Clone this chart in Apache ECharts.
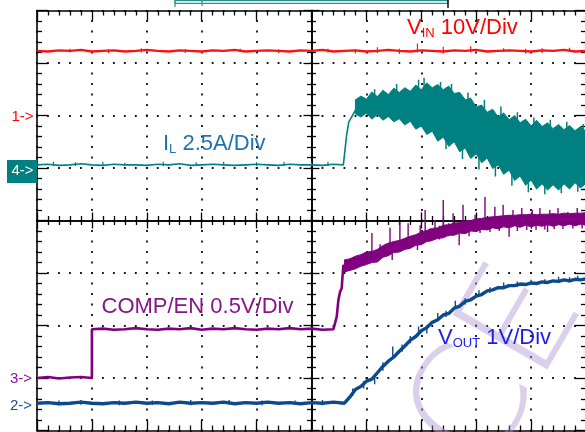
<!DOCTYPE html>
<html>
<head>
<meta charset="utf-8">
<script src="https://cdn.jsdelivr.net/npm/echarts@6/dist/echarts.min.js"></script>
<style>html,body{margin:0;padding:0;background:#fff}#c{width:585px;height:432px}</style>
</head>
<body>
<div id="c"></div>
<script>
// ---- time axes (divisions, -5 .. 5) ----
const tFull = [-5.0,-4.8,-4.6,-4.4,-4.2,-4.0,-3.8,-3.6,-3.4,-3.2,-3.0,-2.8,-2.6,-2.4,-2.2,-2.0,-1.8,-1.6,-1.4,-1.2,-1.0,-0.8,-0.6,-0.4,-0.2,0.0,0.2,0.4,0.6,0.8,1.0,1.2,1.4,1.6,1.8,2.0,2.2,2.4,2.6,2.8,3.0,3.2,3.4,3.6,3.8,4.0,4.2,4.4,4.6,4.8,5.0];
const tCoarse = [-5.0,-4.8,-4.6,-4.4,-4.2,-4.0,-3.8,-3.6,-3.4,-3.2,-3.0,-2.8,-2.6,-2.4,-2.2,-2.0,-1.8,-1.6,-1.4,-1.2,-1.0,-0.8,-0.6,-0.4,-0.2,0.0,0.2,0.4];
const tFine = [0.6,0.7,0.8,0.9,1.0,1.1,1.2,1.3,1.4,1.5,1.6,1.7,1.8,1.9,2.0,2.1,2.2,2.3,2.4,2.5,2.6,2.7,2.8,2.9,3.0,3.1,3.2,3.3,3.4,3.5,3.6,3.7,3.8,3.9,4.0,4.1,4.2,4.3,4.4,4.5,4.6,4.7,4.8,4.9,5.0];
const tBand = [0.8,0.9,1.0,1.1,1.2,1.3,1.4,1.5,1.6,1.7,1.8,1.9,2.0,2.1,2.2,2.3,2.4,2.5,2.6,2.7,2.8,2.9,3.0,3.1,3.2,3.3,3.4,3.5,3.6,3.7,3.8,3.9,4.0,4.1,4.2,4.3,4.4,4.5,4.6,4.7,4.8,4.9,5.0];

// ---- CH1 VIN (screen divisions) ----
const vinY = [3.23,3.22,3.24,3.23,3.25,3.22,3.23,3.24,3.22,3.23,3.25,3.23,3.22,3.24,3.23,3.22,3.24,3.23,3.25,3.22,3.23,3.24,3.23,3.22,3.24,3.23,3.25,3.22,3.23,3.24,3.22,3.23,3.25,3.23,3.22,3.24,3.23,3.22,3.24,3.23,3.25,3.22,3.23,3.24,3.23,3.22,3.24,3.23,3.25,3.22,3.23];
const vinSpikes = [[-4.4,3.20,3.27],[-3.7,3.19,3.26],[-3.1,3.20,3.28],[-2.3,3.19,3.26],[-1.3,3.21,3.27],[-0.6,3.19,3.26],[0.3,3.20,3.27],[0.8,3.18,3.26],[1.2,3.19,3.30],[1.6,3.17,3.27],[1.93,3.20,3.37],[2.4,3.18,3.31],[2.9,3.20,3.32],[3.5,3.21,3.28],[3.9,3.18,3.27],[4.2,3.19,3.28],[4.7,3.21,3.29]];

// ---- CH4 IL ----
const ilFlat = [1.06,1.07,1.05,1.06,1.08,1.06,1.05,1.07,1.06,1.06,1.05,1.07,1.06,1.08,1.05,1.06,1.07,1.06,1.05,1.06,1.07,1.06,1.05,1.07,1.06,1.06,1.05,1.07];
const ilRiseX = [0.58,0.61,0.64,0.68,0.74,0.80];
const ilRiseY = [1.06,1.34,1.63,1.88,1.99,2.10];
const ilHi = [2.30,2.37,2.31,2.45,2.36,2.48,2.40,2.52,2.44,2.53,2.46,2.58,2.49,2.62,2.53,2.59,2.49,2.56,2.42,2.44,2.30,2.33,2.16,2.20,2.06,2.12,1.97,2.05,1.92,2.00,1.86,1.93,1.80,1.91,1.79,1.86,1.75,1.83,1.73,1.81,1.71,1.79,1.70];
const ilLo = [2.03,1.97,2.05,1.93,2.02,1.91,1.98,1.88,1.94,1.82,1.89,1.74,1.80,1.64,1.70,1.51,1.59,1.41,1.50,1.31,1.38,1.18,1.27,1.10,1.19,0.99,1.06,0.88,0.96,0.76,0.85,0.67,0.77,0.60,0.70,0.58,0.68,0.58,0.70,0.60,0.72,0.62,0.71];
const ilSpikes = [[-4.7,1.04,1.12],[-4.3,1.04,1.11],[-3.8,1.04,1.12],[-3.4,1.05,1.10],[-2.7,1.04,1.12],[-2.1,1.04,1.11],[-1.6,1.05,1.12],[-1.0,1.04,1.11],[-0.5,1.04,1.12],[0.0,1.05,1.11],[0.3,1.04,1.12]];
const ilBandSpikes = [[1.15,2.2,2.50],[1.55,2.3,2.60],[1.95,2.3,2.68],[2.05,2.4,2.72],[2.35,2.3,2.64],[2.55,2.2,2.60],[2.85,2.1,2.44],[3.15,2.0,2.30],[3.45,1.9,2.17],[3.75,1.8,2.06],[4.05,1.7,1.96],[4.35,1.7,1.92],[4.65,1.6,1.88],[4.95,1.6,1.84],
  [2.45,1.6,1.36],[2.75,1.4,1.17],[3.05,1.2,0.97],[3.35,1.1,0.84],[3.65,0.9,0.66],[3.95,0.8,0.54],[4.25,0.75,0.50],[4.55,0.75,0.52],[4.85,0.75,0.55]];

// ---- CH3 COMP/EN ----
const compX = [-5.0,-4.8,-4.6,-4.4,-4.2,-4.0,-4.0,-3.8,-3.6,-3.4,-3.2,-3.0,-2.8,-2.6,-2.4,-2.2,-2.0,-1.8,-1.6,-1.4,-1.2,-1.0,-0.8,-0.6,-0.4,-0.2,0.0,0.2,0.4,0.43,0.46,0.49,0.52,0.55,0.58,0.60];
const compY = [-3.00,-2.98,-3.01,-2.99,-2.98,-3.00,-2.07,-2.06,-2.08,-2.07,-2.05,-2.07,-2.08,-2.06,-2.07,-2.05,-2.08,-2.06,-2.07,-2.05,-2.07,-2.08,-2.06,-2.07,-2.05,-2.07,-2.06,-2.08,-2.07,-2.09,-1.83,-1.51,-1.36,-1.29,-0.85,-0.87];
const compHi = [-0.75,-0.73,-0.68,-0.65,-0.60,-0.59,-0.55,-0.48,-0.43,-0.40,-0.38,-0.34,-0.30,-0.27,-0.22,-0.19,-0.15,-0.14,-0.09,-0.08,-0.05,-0.04,-0.01,0.00,0.03,0.04,0.06,0.07,0.08,0.09,0.10,0.10,0.11,0.11,0.12,0.11,0.12,0.12,0.13,0.12,0.14,0.13,0.14,0.14,0.15];
const compLo = [-0.98,-0.95,-0.92,-0.87,-0.84,-0.80,-0.79,-0.70,-0.67,-0.61,-0.60,-0.55,-0.53,-0.47,-0.46,-0.40,-0.38,-0.34,-0.33,-0.28,-0.28,-0.24,-0.25,-0.20,-0.21,-0.17,-0.18,-0.14,-0.16,-0.12,-0.14,-0.10,-0.13,-0.09,-0.12,-0.09,-0.11,-0.08,-0.11,-0.08,-0.10,-0.07,-0.10,-0.07,-0.09];
const compSpikes = [[1.10,-0.70,-0.24],[1.25,-0.60,-0.45],[1.43,-0.55,-0.14],[1.47,-0.75,-0.50],[1.61,-0.49,-0.03],[1.76,-0.42,-0.05],[1.85,-0.50,-0.30],[1.93,-0.56,-0.35],[1.98,-0.34,-0.09],[2.07,-0.30,0.20],[2.16,-0.40,-0.15],[2.25,-0.25,0.01],[2.33,-0.36,-0.10],[2.40,-0.20,0.39],[2.50,-0.30,-0.05],[2.58,-0.17,0.14],[2.69,-0.47,-0.15],[2.76,-0.14,0.30],[2.87,-0.30,-0.05],[2.98,-0.10,0.11],[3.07,-0.24,0.00],[3.16,-0.07,0.45],[3.25,-0.22,0.02],[3.34,-0.05,0.26],[3.42,-0.20,0.03],[3.49,-0.03,0.30],[3.60,-0.31,-0.02],[3.67,-0.02,0.20],[3.75,-0.20,0.05],[3.83,0.00,0.24],[3.92,-0.18,0.06],[4.02,0.00,0.20],[4.09,-0.18,0.06],[4.16,0.00,0.24],[4.25,-0.17,0.06],[4.30,-0.22,0.01],[4.34,0.01,0.20],[4.42,-0.16,0.07],[4.49,0.01,0.24],[4.58,-0.16,0.07],[4.67,0.02,0.16],[4.76,-0.15,0.08],[4.84,0.02,0.24],[4.93,-0.15,0.08]];

// ---- CH2 VOUT ----
const voutFlat = [-3.48,-3.47,-3.49,-3.48,-3.46,-3.48,-3.49,-3.47,-3.48,-3.46,-3.48,-3.47,-3.49,-3.46,-3.48,-3.47,-3.48,-3.46,-3.49,-3.47,-3.48,-3.46,-3.48,-3.47,-3.49,-3.47,-3.48,-3.46];
const voutRise = [-3.48,-3.36,-3.22,-3.16,-3.06,-3.02,-2.90,-2.78,-2.68,-2.60,-2.49,-2.39,-2.28,-2.21,-2.10,-2.04,-1.94,-1.89,-1.80,-1.77,-1.67,-1.63,-1.54,-1.51,-1.44,-1.41,-1.34,-1.32,-1.28,-1.28,-1.24,-1.24,-1.21,-1.22,-1.19,-1.20,-1.17,-1.18,-1.15,-1.16,-1.13,-1.15,-1.12,-1.13,-1.11];
const voutSpikes = [[-4.6,-3.52,-3.43],[-4.2,-3.51,-3.42],[-3.5,-3.52,-3.43],[-2.9,-3.51,-3.43],[-2.2,-3.52,-3.42],[-1.5,-3.51,-3.42],[-0.9,-3.52,-3.43],[-0.3,-3.51,-3.43],[0.2,-3.52,-3.42],
  [0.75,-3.34,-3.20],[0.95,-3.20,-3.06],[1.15,-3.12,-2.96],[1.30,-2.86,-2.70],[1.48,-2.62,-2.40],[1.65,-2.50,-2.36],[1.80,-2.34,-2.20],[1.95,-2.17,-2.02],[2.10,-2.15,-2.00],[2.30,-1.90,-1.76],[2.45,-1.84,-1.72],[2.62,-1.68,-1.53],[2.80,-1.60,-1.48],[3.05,-1.44,-1.33],[3.25,-1.38,-1.27],[3.50,-1.28,-1.18],[3.75,-1.26,-1.16],[4.00,-1.21,-1.13],[4.25,-1.21,-1.12],[4.50,-1.16,-1.07],[4.70,-1.18,-1.08],[4.85,-1.14,-1.05]];

// ---- labels ----
const chLabels = ['1->','4->','3->','2->'];

const RED='#ff1010', TEAL='#008080', PURPLE='#800080', NAVY='#0c4a8c';
const chart = echarts.init(document.getElementById('c'), null, {renderer:'canvas'});

function pairs(xs, ys){ return xs.map((x,i)=>[x, ys[i]]); }
function band(xs, hi, lo, color, z){
  return {type:'custom', silent:true, z:z, clip:true, data:[[xs[0], hi[0]]],
    renderItem:(p, api)=>{
      const pts=[];
      for(let i=0;i<xs.length;i++) pts.push(api.coord([xs[i], hi[i]]));
      for(let i=xs.length-1;i>=0;i--) pts.push(api.coord([xs[i], lo[i]]));
      return {type:'polygon', shape:{points:pts}, style:{fill:color, stroke:color, lineWidth:1}};
    }};
}
function spikes(list, color, w, z){
  return {type:'custom', silent:true, z:z, clip:true, data:list,
    renderItem:(p, api)=>{
      const a=api.coord([api.value(0), api.value(1)]);
      const b=api.coord([api.value(0), api.value(2)]);
      return {type:'line', shape:{x1:a[0],y1:a[1],x2:b[0],y2:b[1]}, style:{stroke:color, lineWidth:w}};
    }};
}
function lineS(data, color, w, z){
  return {type:'line', data:data, showSymbol:false, symbol:'none', z:z, silent:true,
    lineStyle:{color:color, width:w}, itemStyle:{color:color}};
}

const BLK='#000';
function xAx(pos, onZero, inside, big, small, split){
  return {type:'value', min:-5, max:5, interval:1, position:pos,
    axisLine:{show:true, onZero:onZero, onZeroAxisIndex:onZero?0:undefined, lineStyle:{color:BLK, width:1.6}},
    axisTick:{show:true, inside:inside, length:big, lineStyle:{color:BLK, width:1.3}},
    minorTick:{show:true, splitNumber:5, length:small, lineStyle:{color:BLK, width:1.3}},
    axisLabel:{show:false},
    splitLine:{show:!!split, lineStyle:{color:'#111', width:1.8, type:[1.8, 8.7], dashOffset:0.9}},
    minorSplitLine:{show:false}};
}
function yAx(pos, onZero, inside, big, small, split){
  return {type:'value', min:-4, max:4, interval:1, position:pos,
    axisLine:{show:true, onZero:onZero, onZeroAxisIndex:onZero?0:undefined, lineStyle:{color:BLK, width:1.6}},
    axisTick:{show:true, inside:inside, length:big, lineStyle:{color:BLK, width:1.3}},
    minorTick:{show:true, splitNumber:5, length:small, lineStyle:{color:BLK, width:1.3}},
    axisLabel:{show:false},
    splitLine:{show:!!split, lineStyle:{color:'#111', width:1.8, type:[1.8, 9.18], dashOffset:0.9}},
    minorSplitLine:{show:false}};
}

const FONT = '"Liberation Sans", Arial, sans-serif';
function lbl(x, y, main, sub, rest, color){
  return {type:'text', x:x, y:y, z:50, silent:true,
    style:{text:'{a|'+main+'}'+(sub?'{b|'+sub+'}':'')+'{a|'+rest+'}',
      rich:{a:{fontSize:22, lineHeight:22, fontFamily:FONT, fill:color, padding:[0,0,1,0], verticalAlign:'bottom'},
            b:{fontSize:13, lineHeight:13, fontFamily:FONT, fill:color, verticalAlign:'bottom'}}}};
}
function mk(x, y, t, color){
  return {type:'text', x:x, y:y, z:50, silent:true,
    style:{text:t, fill:color, font:'15px '+FONT, verticalAlign:'middle', align:'left'}};
}

chart.setOption({
  animation:false,
  backgroundColor:'#fff',
  grid:{left:37, top:10.5, width:549, height:420, containLabel:false, outerBoundsMode:'none', show:false},
  xAxis:[ xAx('bottom', false, true, 10, 5, true), xAx('top', false, true, 10, 5, false),
          xAx('bottom', true, true, 8, 4.5, false), xAx('bottom', true, false, 8, 4.5, false) ],
  yAxis:[ yAx('left', false, true, 11, 5, true), yAx('right', false, true, 11, 5, false),
          yAx('left', true, true, 8, 4.5, false), yAx('left', true, false, 8, 4.5, false) ],
  series:[
    lineS(pairs(tFull, vinY), RED, 2.4, 5),
    spikes(vinSpikes, RED, 1.2, 5),
    lineS(pairs(tCoarse, ilFlat).concat(pairs(ilRiseX, ilRiseY)), TEAL, 1.6, 6),
    spikes(ilSpikes, TEAL, 1.2, 6),
    band(tBand, ilHi, ilLo, TEAL, 6),
    spikes(ilBandSpikes, TEAL, 1.5, 6),
    lineS(pairs(compX, compY), PURPLE, 2.6, 7),
    band(tFine, compHi, compLo, PURPLE, 7),
    spikes(compSpikes, PURPLE, 1.4, 7),
    lineS(pairs(tCoarse, voutFlat).concat(pairs(tFine, voutRise)), NAVY, 3.4, 8),
    spikes(voutSpikes, NAVY, 1.4, 8)
  ],
  graphic:[
    {type:'text', x:502, y:370, rotation:Math.PI/3, z:1, silent:true,
      style:{text:'CE', font:'200 150px "DejaVu Sans", sans-serif', fill:'rgba(175,150,210,0.45)', align:'center', verticalAlign:'middle'}},
    {type:'rect', shape:{x:175, y:0.5, width:273, height:3}, z:50, silent:true, style:{fill:'#cfe6e6', stroke:'#2a8f8f', lineWidth:1}},
    {type:'line', shape:{x1:175, y1:0, x2:175, y2:7}, z:50, silent:true, style:{stroke:'#2a8f8f', lineWidth:1.2}},
    {type:'line', shape:{x1:202, y1:0, x2:202, y2:6}, z:50, silent:true, style:{stroke:'#2a8f8f', lineWidth:1.2}},
    {type:'line', shape:{x1:448, y1:0, x2:448, y2:8}, z:50, silent:true, style:{stroke:'#000', lineWidth:1.4}},
    lbl(407, 18, 'V', 'IN', ' 10V/Div', '#ff0000'),
    lbl(163, 134, 'I', 'L', ' 2.5A/Div', '#1f72b0'),
    lbl(101.5, 296.5, 'COMP/EN 0.5V/Div', '', '', '#87168a'),
    lbl(438, 328, 'V', 'OUT', ' 1V/Div', '#1c1cf0'),
    mk(11.5, 116.5, chLabels[0], '#ff0000'),
    {type:'rect', shape:{x:7, y:160, width:30, height:23}, z:49, silent:true, style:{fill:TEAL}},
    mk(11.5, 171, chLabels[1], '#ffffff'),
    mk(10, 379, chLabels[2], '#87168a'),
    mk(10, 405.5, chLabels[3], '#1a5090')
  ]
});
</script>
</body>
</html>
